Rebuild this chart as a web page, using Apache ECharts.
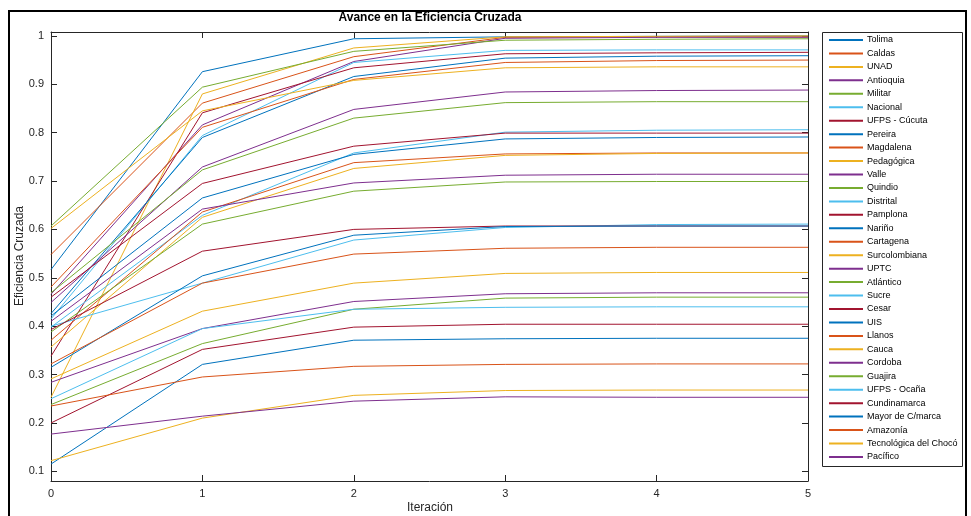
<!DOCTYPE html>
<html>
<head>
<meta charset="utf-8">
<script src="https://cdn.jsdelivr.net/npm/echarts@6/dist/echarts.min.js"></script>
<style>
  html, body { margin: 0; padding: 0; background: #fff; }
  #chart { width: 971px; height: 516px; }
</style>
</head>
<body>
<div id="chart"></div>
<script>
// Iterations on the x axis
const iterations = [0, 1, 2, 3, 4, 5];
const yTicks = [0.1, 0.2, 0.3, 0.4, 0.5, 0.6, 0.7, 0.8, 0.9, 1.0];

// Cross-efficiency per university, one value per iteration
const tolima        = [0.517, 0.926, 0.994, 0.998, 0.999, 1.000];
const caldas        = [0.548, 0.861, 0.957, 0.997, 0.998, 0.998];
const unad          = [0.253, 0.880, 0.975, 0.998, 0.999, 1.000];
const antioquia     = [0.466, 0.816, 0.947, 0.995, 0.997, 0.997];
const militar       = [0.607, 0.894, 0.968, 0.991, 0.993, 0.994];
const nacional      = [0.415, 0.794, 0.945, 0.970, 0.971, 0.971];
const ufpsCucuta    = [0.338, 0.841, 0.934, 0.963, 0.965, 0.966];
const pereira       = [0.426, 0.790, 0.916, 0.954, 0.958, 0.959];
const magdalena     = [0.481, 0.811, 0.910, 0.945, 0.949, 0.950];
const pedagogica    = [0.602, 0.845, 0.908, 0.934, 0.936, 0.936];
const valle         = [0.449, 0.729, 0.848, 0.884, 0.887, 0.888];
const quindio       = [0.469, 0.723, 0.830, 0.862, 0.864, 0.864];
const distrital     = [0.398, 0.629, 0.758, 0.801, 0.805, 0.806];
const pamplona      = [0.460, 0.695, 0.772, 0.799, 0.799, 0.799];
const narino        = [0.421, 0.665, 0.755, 0.787, 0.790, 0.791];
const cartagena     = [0.371, 0.636, 0.738, 0.756, 0.758, 0.758];
const surcolombiana = [0.357, 0.625, 0.726, 0.753, 0.757, 0.758];
const uptc          = [0.410, 0.642, 0.696, 0.712, 0.714, 0.714];
const atlantico     = [0.388, 0.611, 0.679, 0.698, 0.699, 0.699];
const sucre         = [0.400, 0.489, 0.578, 0.604, 0.610, 0.611];
const cesar         = [0.393, 0.555, 0.600, 0.607, 0.607, 0.607];
const uis           = [0.315, 0.504, 0.588, 0.606, 0.607, 0.607];
const llanos        = [0.322, 0.489, 0.549, 0.561, 0.563, 0.563];
const cauca         = [0.291, 0.431, 0.489, 0.509, 0.511, 0.511];
const cordoba       = [0.284, 0.395, 0.451, 0.467, 0.469, 0.469];
const guajira       = [0.238, 0.364, 0.435, 0.458, 0.460, 0.460];
const ufpsOcana     = [0.250, 0.395, 0.435, 0.439, 0.440, 0.440];
const cundinamarca  = [0.200, 0.352, 0.398, 0.404, 0.404, 0.404];
const mayor         = [0.115, 0.321, 0.371, 0.374, 0.375, 0.375];
const amazonia      = [0.235, 0.295, 0.317, 0.321, 0.322, 0.322];
const choco         = [0.122, 0.210, 0.257, 0.267, 0.268, 0.268];
const pacifico      = [0.177, 0.214, 0.245, 0.254, 0.253, 0.253];

const universities = [
  ['Tolima', tolima], ['Caldas', caldas], ['UNAD', unad], ['Antioquia', antioquia],
  ['Militar', militar], ['Nacional', nacional], ['UFPS - Cúcuta', ufpsCucuta],
  ['Pereira', pereira], ['Magdalena', magdalena], ['Pedagógica', pedagogica],
  ['Valle', valle], ['Quindio', quindio], ['Distrital', distrital], ['Pamplona', pamplona],
  ['Nariño', narino], ['Cartagena', cartagena], ['Surcolombiana', surcolombiana],
  ['UPTC', uptc], ['Atlántico', atlantico], ['Sucre', sucre], ['Cesar', cesar],
  ['UIS', uis], ['Llanos', llanos], ['Cauca', cauca], ['Cordoba', cordoba],
  ['Guajira', guajira], ['UFPS - Ocaña', ufpsOcana], ['Cundinamarca', cundinamarca],
  ['Mayor de C/marca', mayor], ['Amazonía', amazonia],
  ['Tecnológica del Chocó', choco], ['Pacífico', pacifico]
];

// Default line colour order, cycled over the series
const palette = ['#0072BD', '#D95319', '#EDB120', '#7E2F8E', '#77AC30', '#4DBEEE', '#A2142F'];

const FONT = 'Liberation Sans, Arial, Helvetica, sans-serif';
const AXIS_COLOR = '#262626';

const series = universities.map(([name, vals], i) => ({
  name: name,
  type: 'line',
  xAxisIndex: 0,
  yAxisIndex: 0,
  data: vals.map((v, k) => [iterations[k], v]),
  symbol: 'none',
  showSymbol: false,
  color: palette[i % palette.length],
  lineStyle: { width: 1, color: palette[i % palette.length] },
  emphasis: { disabled: true },
  z: 2
}));

const chart = echarts.init(document.getElementById('chart'), null, { renderer: 'canvas' });

const baseX = {
  type: 'value', min: 0, max: 5, interval: 1,
  axisLine: { show: true, onZero: false, lineStyle: { color: AXIS_COLOR, width: 1 } },
  axisTick: { show: true, inside: true, length: 6, lineStyle: { color: AXIS_COLOR } },
  splitLine: { show: false }
};
const baseY = {
  type: 'value', min: 0.08, max: 1.008,
  axisLine: { show: true, onZero: false, lineStyle: { color: AXIS_COLOR, width: 1 } },
  axisTick: { show: true, inside: true, length: 6, customValues: yTicks, lineStyle: { color: AXIS_COLOR } },
  splitLine: { show: false }
};

chart.setOption({
  animation: false,
  backgroundColor: '#ffffff',
  grid: { left: 51, right: 163, top: 32, bottom: 35, containLabel: false },
  xAxis: [
    Object.assign({}, baseX, {
      position: 'bottom',
      axisLabel: { show: true, margin: 7, color: AXIS_COLOR, fontSize: 11, fontFamily: FONT }
    }),
    Object.assign({}, baseX, { position: 'top', axisLabel: { show: false } })
  ],
  yAxis: [
    Object.assign({}, baseY, {
      position: 'left',
      axisLabel: {
        show: true, margin: 7, color: AXIS_COLOR, fontSize: 11, fontFamily: FONT,
        customValues: yTicks,
        formatter: v => String(parseFloat(v.toFixed(1)))
      }
    }),
    Object.assign({}, baseY, { position: 'right', axisLabel: { show: false } })
  ],
  legend: {
    orient: 'vertical',
    left: 822, top: 32,
    padding: [3, 6, 4, 6],
    itemWidth: 34, itemHeight: 10, itemGap: 3.45,
    itemStyle: { opacity: 0 },
    textStyle: { fontSize: 9, lineHeight: 10, fontFamily: FONT, color: '#000', padding: [0, 0, 0, -1] },
    data: universities.map(u => u[0]),
    selectedMode: false
  },
  graphic: [
    // figure frame
    { type: 'rect', z: -10, silent: true,
      shape: { x: 9, y: 11, width: 957, height: 520 },
      style: { fill: 'none', stroke: '#000', lineWidth: 2 } },
    // legend box
    { type: 'rect', z: -5, silent: true,
      shape: { x: 822.5, y: 32.5, width: 140, height: 434 },
      style: { fill: '#fff', stroke: AXIS_COLOR, lineWidth: 1 } },
    { type: 'text', silent: true,
      x: 430, y: 18,
      style: { text: 'Avance en la Eficiencia Cruzada', align: 'center', verticalAlign: 'middle',
        fontSize: 12, fontWeight: 'bold', fontFamily: FONT, fill: '#000' } },
    { type: 'text', silent: true,
      x: 430, y: 508,
      style: { text: 'Iteración', align: 'center', verticalAlign: 'middle',
        fontSize: 12, fontFamily: FONT, fill: AXIS_COLOR } },
    { type: 'text', silent: true,
      x: 20, y: 256, rotation: Math.PI / 2,
      style: { text: 'Eficiencia Cruzada', align: 'center', verticalAlign: 'middle',
        fontSize: 12, fontFamily: FONT, fill: AXIS_COLOR } }
  ],
  series: series
});
</script>
</body>
</html>
